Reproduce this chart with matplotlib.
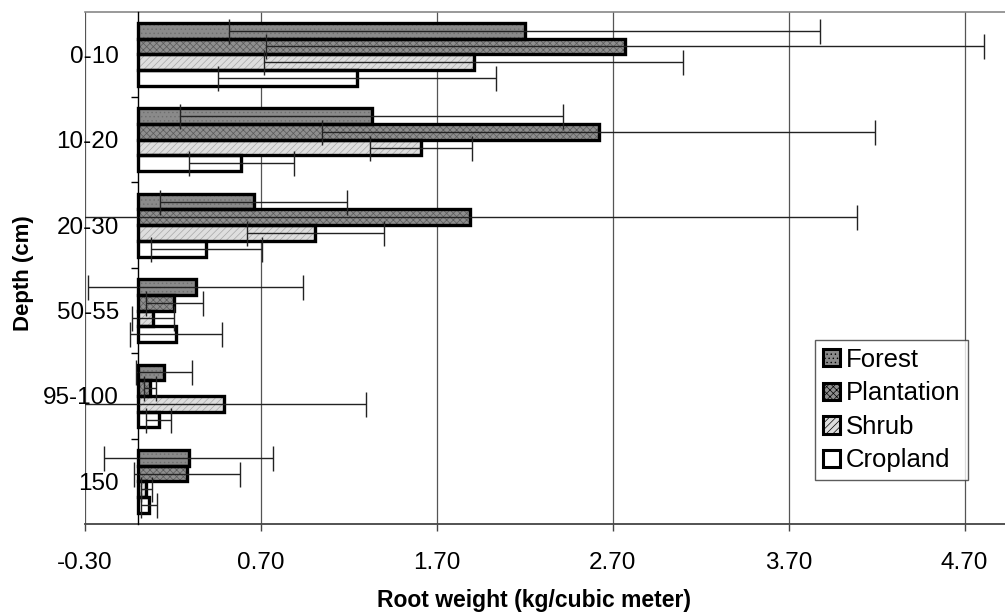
import matplotlib
matplotlib.use('Agg')
import matplotlib.pyplot as plt
import numpy as np

plt.rcParams['font.family'] = ['Liberation Sans', 'DejaVu Sans']

depths = ['0-10', '10-20', '20-30', '50-55', '95-100', '150']
series = ['Forest', 'Plantation', 'Shrub', 'Cropland']

forest = [2.20, 1.33, 0.66, 0.33, 0.15, 0.29]
forest_err = [1.68, 1.09, 0.53, 0.61, 0.16, 0.48]
plantation = [2.77, 2.62, 1.89, 0.21, 0.07, 0.28]
plantation_err = [2.04, 1.57, 2.20, 0.16, 0.035, 0.30]
shrub = [1.91, 1.61, 1.01, 0.09, 0.49, 0.05]
shrub_err = [1.19, 0.29, 0.39, 0.12, 0.81, 0.03]
cropland = [1.25, 0.59, 0.39, 0.22, 0.12, 0.065]
cropland_err = [0.79, 0.30, 0.315, 0.26, 0.07, 0.047]

xticks = [-0.30, 0.70, 1.70, 2.70, 3.70, 4.70]

values = [forest, plantation, shrub, cropland]
errors = [forest_err, plantation_err, shrub_err, cropland_err]
faces = ['#8a8a8a', '#8f8f8f', '#dedede', 'white']
hatch_colors = ['#6e6e6e', '#5a5a5a', '#a8a8a8', 'white']
hatches = ['....', 'xxxxx', '/////', None]

plt.rcParams['hatch.linewidth'] = 0.5

fig = plt.figure(figsize=(10.05, 6.13), dpi=100)
ax = fig.add_axes([0.0843, 0.145, 0.9157, 0.836])

ypos = np.arange(len(depths))
h = 0.184

handles = []
for k in range(4):
    y = ypos + (k - 1.5) * h
    # fill + texture
    ax.barh(y, values[k], height=h, color=faces[k], hatch=hatches[k],
            edgecolor=hatch_colors[k], linewidth=0, zorder=2)
    # outline
    ax.barh(y, values[k], height=h, fill=False, edgecolor='black',
            linewidth=2.4, zorder=3)
    ax.errorbar(values[k], y, xerr=errors[k], fmt='none', ecolor='#222222',
                elinewidth=1.0, capsize=9, capthick=1.0, zorder=4)
    handles.append(plt.Rectangle((0, 0), 1, 1, facecolor=faces[k],
                                 hatch=hatches[k], edgecolor='black',
                                 linewidth=2.2))

ax.set_xlim(-0.30, 4.93)
ax.set_ylim(len(depths) - 0.5, -0.5)

ax.set_xticks(xticks)
ax.set_xticklabels(['%.2f' % t for t in xticks], fontsize=17.5)
ax.tick_params(axis='x', direction='out', length=5, width=1, pad=15,
               color='#444444')
ax.grid(axis='x', color='#555555', linewidth=0.9, zorder=1)
ax.set_axisbelow(True)

# y axis sits at zero, ticks between groups, labels at group centres
ax.spines['left'].set_position(('data', 0))
ax.spines['left'].set_linewidth(1.0)
ax.spines['left'].set_zorder(5)
ax.set_yticks(ypos[:-1] + 0.5)
ax.set_yticklabels([])
ax.tick_params(axis='y', which='major', direction='out', length=5, width=1)
ax.set_yticks(ypos, minor=True)
ax.set_yticklabels(depths, minor=True, fontsize=17.5)
ax.tick_params(axis='y', which='minor', length=0, pad=13.5)

ax.spines['right'].set_visible(False)
ax.spines['top'].set_color('#888888')
ax.spines['top'].set_linewidth(1.2)
ax.spines['bottom'].set_color('#444444')
ax.spines['bottom'].set_linewidth(1.3)

ax.set_xlabel('Root weight (kg/cubic meter)', fontsize=16.5, fontweight='bold')
ax.xaxis.set_label_coords(0.488, -0.126)
ax.set_ylabel('Depth (cm)', fontsize=16, fontweight='bold')
ax.yaxis.set_label_coords(-0.055, 0.49)

leg = ax.legend(handles, series, loc='upper left',
                bbox_to_anchor=(0.7935, 0.359), borderaxespad=0,
                fontsize=18.5, frameon=True, fancybox=False,
                handlelength=0.66, handleheight=0.66, handletextpad=0.23,
                labelspacing=0.37, borderpad=0.3)
leg.get_frame().set_edgecolor('#333333')
leg.get_frame().set_linewidth(1.0)
leg.set_zorder(6)

fig.savefig('out.png', dpi=100)
